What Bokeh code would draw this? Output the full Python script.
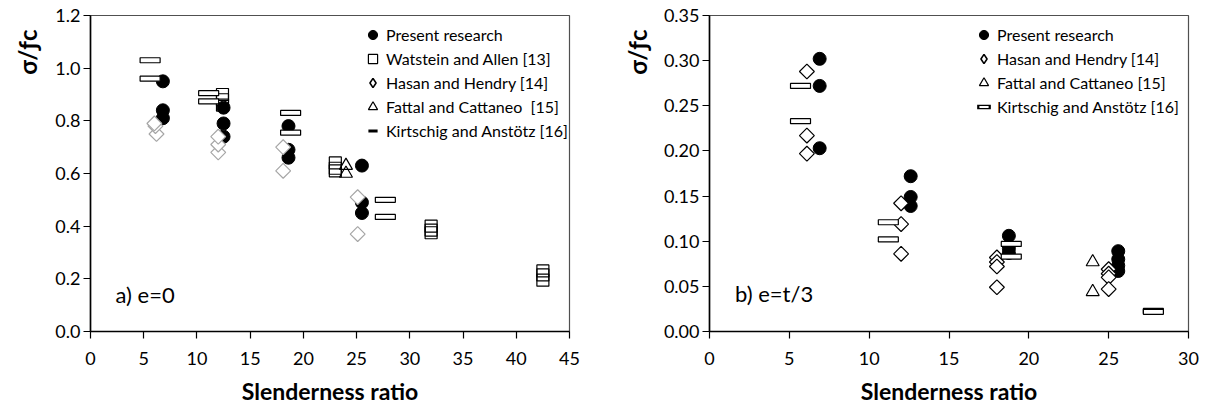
import math
from bokeh.plotting import figure
from bokeh.layouts import row
from bokeh.models import Label, Legend, LegendItem, NumeralTickFormatter, FixedTicker, Range1d, Title
from bokeh.embed import file_html
from bokeh.resources import INLINE

# ---------------- data: a) e=0 ----------------
present_a_x = [6.8, 6.8, 6.8, 12.5, 12.5, 12.5, 18.6, 18.6, 18.6, 25.5, 25.5, 25.5]
present_a_y = [0.95, 0.84, 0.81, 0.85, 0.79, 0.74, 0.78, 0.69, 0.66, 0.63, 0.49, 0.45]
watstein_a_x = [12.4, 12.4, 12.4, 23.0, 23.0, 23.0, 32.0, 32.0, 32.0, 42.5, 42.5, 42.5]
watstein_a_y = [0.90, 0.88, 0.86, 0.64, 0.62, 0.61, 0.40, 0.385, 0.375, 0.23, 0.215, 0.195]
hasan_a_x = [6.2, 6.1, 6.0, 12.0, 12.0, 12.0, 18.1, 18.1, 25.1, 25.1]
hasan_a_y = [0.75, 0.78, 0.79, 0.68, 0.71, 0.74, 0.61, 0.70, 0.37, 0.51]
fattal_a_x = [24.0, 24.0]
fattal_a_y = [0.63, 0.60]
kirt_a_x = [5.6, 5.6, 11.1, 11.1, 18.8, 18.8, 27.7, 27.7]
kirt_a_y = [1.03, 0.96, 0.905, 0.874, 0.83, 0.755, 0.50, 0.435]

# ---------------- data: b) e=t/3 ----------------
present_b_x = [6.9, 6.9, 6.9, 12.6, 12.6, 12.6, 18.75, 18.75, 18.75, 25.6, 25.6, 25.6, 25.6]
present_b_y = [0.302, 0.272, 0.203, 0.172, 0.149, 0.139, 0.106, 0.092, 0.087, 0.089, 0.080, 0.073, 0.067]
hasan_b_x = [6.1, 6.1, 6.1, 12.0, 12.0, 12.0, 18.0, 18.0, 18.0, 18.0, 25.0, 25.0, 25.0, 25.0]
hasan_b_y = [0.288, 0.217, 0.197, 0.142, 0.119, 0.086, 0.082, 0.077, 0.072, 0.049, 0.069, 0.064, 0.060, 0.047]
fattal_b_x = [24.0, 24.0]
fattal_b_y = [0.077, 0.044]
kirt_b_x = [5.7, 5.7, 11.2, 11.2, 18.9, 18.9, 27.8, 27.8]
kirt_b_y = [0.272, 0.233, 0.121, 0.102, 0.097, 0.083, 0.0228, 0.0218]

x_ticks_a = [0, 5, 10, 15, 20, 25, 30, 35, 40, 45]
y_ticks_a = [0.0, 0.2, 0.4, 0.6, 0.8, 1.0, 1.2]
x_ticks_b = [0, 5, 10, 15, 20, 25, 30]
y_ticks_b = [0.00, 0.05, 0.10, 0.15, 0.20, 0.25, 0.30, 0.35]

FONT = "Lato"
NAN = [float("nan")]


def base_fig(xmax, ymax, xt, yt, fmt, border_left, border_right, title_standoff):
    p = figure(frame_width=479, frame_height=316, output_backend="svg", toolbar_location=None,
               x_range=Range1d(0, xmax), y_range=Range1d(0, ymax),
               min_border_left=border_left, min_border_right=border_right,
               min_border_top=15, min_border_bottom=72)
    p.grid.visible = False
    p.outline_line_color = "#505050"
    p.outline_line_width = 1.2
    p.background_fill_color = "white"
    p.border_fill_color = "white"
    p.xaxis.ticker = FixedTicker(ticks=xt)
    p.yaxis.ticker = FixedTicker(ticks=yt)
    p.yaxis.formatter = NumeralTickFormatter(format=fmt)
    for ax in (p.xaxis, p.yaxis):
        ax.axis_line_color = "black"
        ax.axis_line_width = 1.6
        ax.major_tick_line_color = "black"
        ax.major_tick_line_width = 1.2
        ax.major_tick_out = 7
        ax.major_tick_in = 0
        ax.minor_tick_line_color = None
        ax.major_label_text_font = FONT
        ax.major_label_text_font_size = "18px"
        ax.major_label_text_color = "black"
    p.yaxis.major_label_standoff = 3
    p.xaxis.major_label_standoff = 13
    p.xaxis.axis_label = "Slenderness ratio"
    p.xaxis.axis_label_text_font = FONT
    p.xaxis.axis_label_text_font_style = "bold"
    p.xaxis.axis_label_text_font_size = "23px"
    p.xaxis.axis_label_text_color = "black"
    p.xaxis.axis_label_standoff = 9
    # y-axis title placed near the top, as in the original
    p.add_layout(Title(text="σ/ƒc", align="right", offset=14, standoff=title_standoff,
                       text_font=FONT, text_font_style="bold", text_font_size="24px",
                       text_color="black"), "left")
    return p


# ---------------- left figure ----------------
p1 = base_fig(45, 1.2, x_ticks_a, y_ticks_a, "0.0", 90, 40, 21)
r_pres_a = p1.scatter(present_a_x, present_a_y, marker="circle", size=13, fill_color="black", line_color="black")
r_wat_a = p1.scatter(watstein_a_x, watstein_a_y, marker="square", size=12, fill_alpha=0, line_color="black", line_width=1.2)
r_has_a = p1.scatter(hasan_a_x, hasan_a_y, marker="square", angle=math.pi / 4, size=10.5, fill_color="white",
                     line_color="#a6a6a6", line_width=1.2)
r_fat_a = p1.scatter(fattal_a_x, fattal_a_y, marker="triangle", size=13, fill_alpha=0, line_color="black", line_width=1.2)
r_kir_a = p1.rect(kirt_a_x, kirt_a_y, width=20, height=5, width_units="screen", height_units="screen",
                  fill_color="white", line_color="black", line_width=1.2)

# legend-only renderers (a single NaN point: nothing drawn in the plot)
lg_pres_a = p1.scatter(NAN, NAN, marker="circle", fill_color="black", line_color="black")
lg_wat_a = p1.scatter(NAN, NAN, marker="square", fill_color="white", line_color="black", line_width=1.2)
lg_has_a = p1.scatter(NAN, NAN, marker="diamond", fill_color="white", line_color="black", line_width=1.6)
lg_fat_a = p1.scatter(NAN, NAN, marker="triangle", fill_color="white", line_color="black", line_width=1.2)
lg_kir_a = p1.scatter(NAN, NAN, marker="dash", line_color="black", line_width=3)

leg1 = Legend(items=[
    LegendItem(label="Present research", renderers=[lg_pres_a]),
    LegendItem(label="Watstein and Allen [13]", renderers=[lg_wat_a]),
    LegendItem(label="Hasan and Hendry [14]", renderers=[lg_has_a]),
    LegendItem(label="Fattal and Cattaneo  [15]", renderers=[lg_fat_a]),
    LegendItem(label="Kirtschig and Anstötz [16]", renderers=[lg_kir_a]),
], location=(271, 189))
p1.add_layout(Label(x=2.35, y=0.14, text="a) e=0", text_font=FONT, text_font_size="22px",
                    text_baseline="middle", text_color="black"))

# ---------------- right figure ----------------
p2 = base_fig(30, 0.35, x_ticks_b, y_ticks_b, "0.00", 100, 13, 18)
r_pres_b = p2.scatter(present_b_x, present_b_y, marker="circle", size=13, fill_color="black", line_color="black")
r_has_b = p2.scatter(hasan_b_x, hasan_b_y, marker="square", angle=math.pi / 4, size=10.5, fill_color="white",
                     line_color="black", line_width=1.2)
r_fat_b = p2.scatter(fattal_b_x, fattal_b_y, marker="triangle", size=13, fill_alpha=0, line_color="black", line_width=1.2)
r_kir_b = p2.rect(kirt_b_x, kirt_b_y, width=20, height=5, width_units="screen", height_units="screen",
                  fill_color="white", line_color="black", line_width=1.2)

lg_pres_b = p2.scatter(NAN, NAN, marker="circle", fill_color="black", line_color="black")
lg_has_b = p2.scatter(NAN, NAN, marker="diamond", fill_color="white", line_color="black", line_width=1.6)
lg_fat_b = p2.scatter(NAN, NAN, marker="triangle", fill_color="white", line_color="black", line_width=1.2)
lg_kir_b1 = p2.scatter(NAN, NAN, marker="dash", line_color="black", line_width=4.5, line_cap="square")
lg_kir_b2 = p2.scatter(NAN, NAN, marker="dash", line_color="white", line_width=2)

leg2 = Legend(items=[
    LegendItem(label="Present research", renderers=[lg_pres_b]),
    LegendItem(label="Hasan and Hendry [14]", renderers=[lg_has_b]),
    LegendItem(label="Fattal and Cattaneo [15]", renderers=[lg_fat_b]),
    LegendItem(label="Kirtschig and Anstötz [16]", renderers=[lg_kir_b1, lg_kir_b2]),
], location=(263, 213))
p2.add_layout(Label(x=1.6, y=0.042, text="b) e=t/3", text_font=FONT, text_font_size="22px",
                    text_baseline="middle", text_color="black"))

for leg in (leg1, leg2):
    leg.border_line_color = None
    leg.background_fill_alpha = 0
    leg.padding = 0
    leg.margin = 0
    leg.spacing = 1
    leg.glyph_width = 23
    leg.glyph_height = 23
    leg.label_height = 23
    leg.label_standoff = 2
    leg.label_text_font = FONT
    leg.label_text_font_size = "16px"
    leg.label_text_color = "black"
    leg.label_text_baseline = "middle"

p1.add_layout(leg1)
p2.add_layout(leg2)

layout = row(p1, p2)
open("out.html", "w").write(file_html(layout, INLINE))
